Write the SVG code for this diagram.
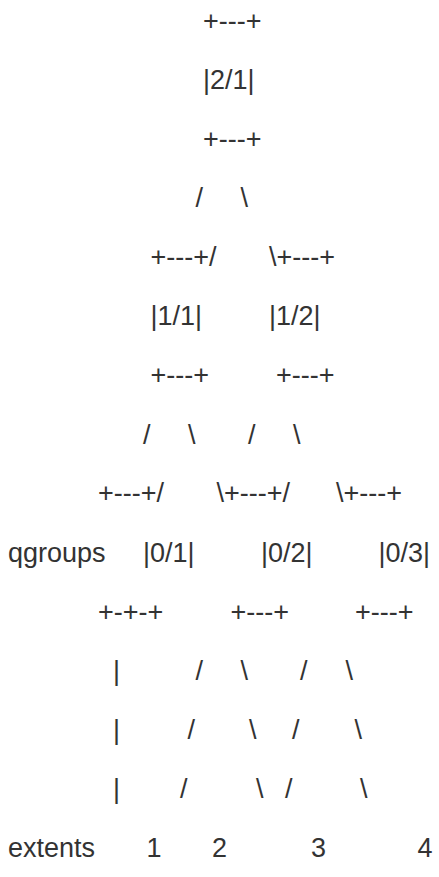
<svg xmlns="http://www.w3.org/2000/svg" width="439" height="877" viewBox="0 0 439 877">
<style>
text { font-family: "Liberation Sans", Arial, sans-serif; font-size: 27px; fill: #333333; white-space: pre; }
</style>
<rect width="439" height="877" fill="#ffffff"/>
<g id="node-2-1">
<text x="203" y="30">+---+</text>
<text x="203" y="89">|2/1|</text>
<text x="203" y="148">+---+</text>
</g>
<g id="node-1-1">
<text x="150.5" y="266">+---+</text>
<text x="150.5" y="325">|1/1|</text>
<text x="150.5" y="384">+---+</text>
</g>
<g id="node-1-2">
<text x="276.5" y="266">+---+</text>
<text x="269" y="325">|1/2|</text>
<text x="276" y="384">+---+</text>
</g>
<g id="node-0-1">
<text x="98" y="502">+---+</text>
<text x="143" y="561.5">|0/1|</text>
<text x="98" y="620.5">+-+-+</text>
</g>
<g id="node-0-2">
<text x="224" y="502">+---+</text>
<text x="261" y="561.5">|0/2|</text>
<text x="230.5" y="620.5">+---+</text>
</g>
<g id="node-0-3">
<text x="343.5" y="502">+---+</text>
<text x="378.5" y="561.5">|0/3|</text>
<text x="355" y="620.5">+---+</text>
</g>
<g id="label-qgroups"><text x="8" y="561.5">qgroups</text></g>
<g id="label-extents"><text x="8" y="856.5">extents</text></g>
<g id="extent-1"><text x="146.5" y="856.5">1</text></g>
<g id="extent-2"><text x="212" y="856.5">2</text></g>
<g id="extent-3"><text x="311" y="856.5">3</text></g>
<g id="extent-4"><text x="417.5" y="856.5">4</text></g>
<g id="connectors">
<text x="195.5" y="207">/</text>
<text x="240.5" y="207">\</text>
<text x="209" y="266">/</text>
<text x="269" y="266">\</text>
<text x="143" y="443.5">/</text>
<text x="188" y="443.5">\</text>
<text x="248" y="443.5">/</text>
<text x="293" y="443.5">\</text>
<text x="156.5" y="502">/</text>
<text x="216.5" y="502">\</text>
<text x="282.5" y="502">/</text>
<text x="336" y="502">\</text>
<text x="113" y="679.5">|</text>
<text x="195.5" y="679.5">/</text>
<text x="240.5" y="679.5">\</text>
<text x="300" y="679.5">/</text>
<text x="345.5" y="679.5">\</text>
<text x="113" y="738.5">|</text>
<text x="187.5" y="738.5">/</text>
<text x="249" y="738.5">\</text>
<text x="292" y="738.5">/</text>
<text x="354.5" y="738.5">\</text>
<text x="113" y="797.5">|</text>
<text x="180" y="797.5">/</text>
<text x="256" y="797.5">\</text>
<text x="285" y="797.5">/</text>
<text x="360" y="797.5">\</text>
</g>
</svg>
